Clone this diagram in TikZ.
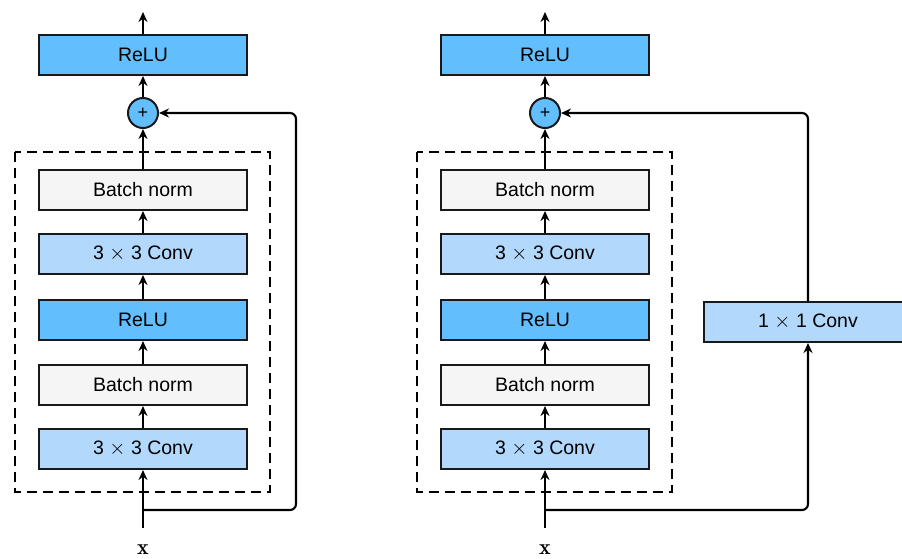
\documentclass[tikz,border=0pt]{standalone}
\usepackage{fontspec}
\setsansfont{Liberation Sans}
\usetikzlibrary{arrows.meta}
\definecolor{relu}{RGB}{99,190,253}
\definecolor{conv}{RGB}{178,217,252}
\definecolor{bnc}{RGB}{245,245,245}
\begin{document}
\begin{tikzpicture}[x=1pt,y=-1pt,
  blk/.style={draw=black!90, line width=2pt, minimum width=208pt, minimum height=40pt, inner sep=0pt,
    font=\sffamily\fontsize{19.5}{23}\selectfont},
  relub/.style={blk, fill=relu},
  convb/.style={blk, fill=conv},
  bnb/.style={blk, fill=bnc},
  plusc/.style={circle, draw=black!90, line width=2pt, fill=relu, minimum size=30pt, inner sep=0pt,
    font=\sffamily\fontsize{18}{20}\selectfont},
  arr/.style={line width=2.1pt, -{Stealth[length=10pt,width=9pt]}},
  dbox/.style={draw, line width=1.8pt, dash pattern=on 10pt off 6pt},
  xlab/.style={font=\fontsize{22}{24}\selectfont}
]
\useasboundingbox (0,0) rectangle (902,558);
% ---------- left block ----------
\node[relub] (lr) at (143,55) {ReLU};
\node[plusc] (lp) at (143,113) {+};
\node[bnb] (lb2) at (143,190) {Batch norm};
\node[convb] (lc2) at (143,254) {3 $\times$ 3 Conv};
\node[relub] (lr1) at (143,320) {ReLU};
\node[bnb] (lb1) at (143,385) {Batch norm};
\node[convb] (lc1) at (143,449) {3 $\times$ 3 Conv};
\draw[dbox] (15,152) rectangle (270,492);
\coordinate (ltop) at (143,12);
\coordinate (lin) at (143,528);
\coordinate (lbr) at (143,510);
\node[xlab] (lx) at (143,550) {$\mathbf{x}$};
\draw[arr] (lr.north) -- (ltop);
\draw[arr] (lp.north) -- (lr.south);
\draw[arr] (lb2.north) -- (lp.south);
\draw[arr] (lc2.north) -- (lb2.south);
\draw[arr] (lr1.north) -- (lc2.south);
\draw[arr] (lb1.north) -- (lr1.south);
\draw[arr] (lc1.north) -- (lb1.south);
\draw[arr] (lin) -- (lc1.south);
\draw[arr, rounded corners=6pt] (lbr) -- (296,510) -- (296,113) -- (lp.east);
% ---------- right block ----------
\node[relub] (rr) at (545,55) {ReLU};
\node[plusc] (rp) at (545,113) {+};
\node[bnb] (rb2) at (545,190) {Batch norm};
\node[convb] (rc2) at (545,254) {3 $\times$ 3 Conv};
\node[relub] (rr1) at (545,320) {ReLU};
\node[bnb] (rb1) at (545,385) {Batch norm};
\node[convb] (rc1) at (545,449) {3 $\times$ 3 Conv};
\node[convb] (rs) at (808,322) {1 $\times$ 1 Conv};
\draw[dbox] (417,152) rectangle (672,492);
\coordinate (rtop) at (545,12);
\coordinate (rin) at (545,528);
\coordinate (rbr) at (545,510);
\node[xlab] (rx) at (545,550) {$\mathbf{x}$};
\draw[arr] (rr.north) -- (rtop);
\draw[arr] (rp.north) -- (rr.south);
\draw[arr] (rb2.north) -- (rp.south);
\draw[arr] (rc2.north) -- (rb2.south);
\draw[arr] (rr1.north) -- (rc2.south);
\draw[arr] (rb1.north) -- (rr1.south);
\draw[arr] (rc1.north) -- (rb1.south);
\draw[arr] (rin) -- (rc1.south);
\draw[arr, rounded corners=6pt] (rbr) -- (808,510) -- (rs.south);
\draw[arr, rounded corners=6pt] (rs.north) -- (808,113) -- (rp.east);
\end{tikzpicture}
\end{document}
